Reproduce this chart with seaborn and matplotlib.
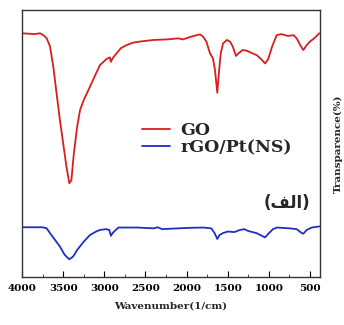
import numpy as np
import pandas as pd
import matplotlib
matplotlib.use("Agg")
import matplotlib.pyplot as plt
import seaborn as sns
from matplotlib.ticker import MultipleLocator

# GO spectrum (wavenumber, transmittance a.u.)
go_wn = [4000, 3850, 3780, 3740, 3700, 3660, 3620, 3580, 3540, 3500, 3460, 3425,
         3400, 3370, 3330, 3295, 3250, 3174, 3100, 3052, 2980, 2935, 2920, 2900,
         2850, 2800, 2728, 2650, 2566, 2400, 2242, 2100, 2044, 1950, 1837, 1800,
         1760, 1716, 1680, 1655, 1627, 1605, 1585, 1557, 1510, 1473, 1440, 1400,
         1370, 1320, 1270, 1200, 1148, 1090, 1047, 1010, 960, 905, 850, 770, 700,
         662, 620, 582, 540, 501, 450, 388]
go_t = [91.3, 91.0, 91.3, 90.6, 89.4, 86.4, 78.8, 68.8, 58.9, 50.1, 41.3, 35.1,
        36.3, 46.3, 56.3, 62.5, 66.3, 71.3, 76.3, 79.4, 81.5, 82.3, 80.6, 81.9,
        83.8, 85.7, 86.9, 87.8, 88.2, 88.8, 89.0, 89.4, 89.0, 90.0, 90.9, 90.0,
        88.2, 83.8, 81.9, 77.5, 69.0, 77.5, 83.8, 87.5, 88.8, 88.2, 86.4, 82.8,
        83.8, 85.0, 84.8, 83.8, 83.1, 81.5, 80.0, 81.5, 86.4, 90.6, 91.0, 90.3, 90.6,
        89.4, 86.9, 85.0, 86.9, 88.2, 89.4, 91.3]

# rGO/Pt(NS) spectrum
rgo_wn = [4000, 3750, 3700, 3660, 3600, 3540, 3480, 3425, 3380, 3330, 3250, 3174,
          3100, 3052, 2980, 2940, 2920, 2900, 2860, 2828, 2600, 2400, 2350, 2300,
          2100, 1950, 1800, 1700, 1660, 1627, 1600, 1560, 1500, 1420, 1350, 1300,
          1250, 1150, 1047, 1000, 950, 900, 750, 662, 600, 582, 540, 480, 388]
rgo_t = [18.6, 18.6, 18.2, 16.4, 13.9, 11.4, 8.2, 6.6, 7.6, 10.1, 13.2, 15.7,
         17.0, 17.6, 17.9, 17.6, 15.4, 16.4, 17.6, 18.5, 18.5, 18.2, 18.6, 17.9,
         18.2, 18.4, 18.5, 18.2, 16.4, 14.2, 15.7, 16.4, 17.0, 16.8, 17.6, 17.9,
         17.2, 16.4, 14.8, 16.4, 17.9, 18.5, 18.2, 17.9, 16.4, 16.2, 17.6, 18.5, 18.9]

series_names = ["GO", "rGO/Pt(NS)"]
series_colors = ["#d81e1e", "#1f2fc4"]
xtick_values = [4000, 3500, 3000, 2500, 2000, 1500, 1000, 500]

df = pd.concat([
    pd.DataFrame({"wn": go_wn, "t": go_t, "sample": series_names[0]}),
    pd.DataFrame({"wn": rgo_wn, "t": rgo_t, "sample": series_names[1]}),
])

sns.set_style("white")
plt.rcParams["font.family"] = ["DejaVu Serif"]
plt.rcParams["font.weight"] = "bold"

fig = plt.figure(figsize=(3.44, 3.25), dpi=100)
ax = fig.add_axes([0.064, 0.148, 0.866, 0.821])

sns.lineplot(data=df, x="wn", y="t", hue="sample", palette=series_colors,
             hue_order=series_names, sort=False, linewidth=1.3, ax=ax,
             estimator=None)

ax.set_xlim(4000, 380)
ax.set_ylim(0, 100)
ax.set_xticks(xtick_values)
ax.set_xticklabels([str(v) for v in xtick_values], fontsize=7.5, fontweight="bold")
ax.xaxis.set_minor_locator(MultipleLocator(250))
ax.tick_params(axis="x", which="major", direction="in", length=4, width=0.8,
               bottom=True, top=False, pad=5, colors="black")
ax.tick_params(axis="x", which="minor", direction="in", length=2, width=0.6,
               bottom=True, top=False)
ax.set_yticks([])
ax.set_xlabel("Wavenumber(1/cm)", fontsize=7.5, fontweight="bold", labelpad=6)
ax.set_ylabel("Transparence(%)", fontsize=7.5, fontweight="bold", labelpad=10)
ax.yaxis.set_label_position("right")
for s in ax.spines.values():
    s.set_color("#333333")
    s.set_linewidth(1.0)

leg = ax.legend(loc="center left", bbox_to_anchor=(0.403, 0.515), frameon=False,
                fontsize=12.5, handlelength=1.6, handletextpad=0.6,
                labelspacing=0.0, borderaxespad=0, borderpad=0)
for t in leg.get_texts():
    t.set_fontweight("bold")

ax.text(0.966, 0.277, "(ﻒﻟﺍ)", transform=ax.transAxes, ha="right", va="center",
        fontsize=12, fontweight="bold", family=["DejaVu Sans"])

fig.savefig("out.png", dpi=100)
